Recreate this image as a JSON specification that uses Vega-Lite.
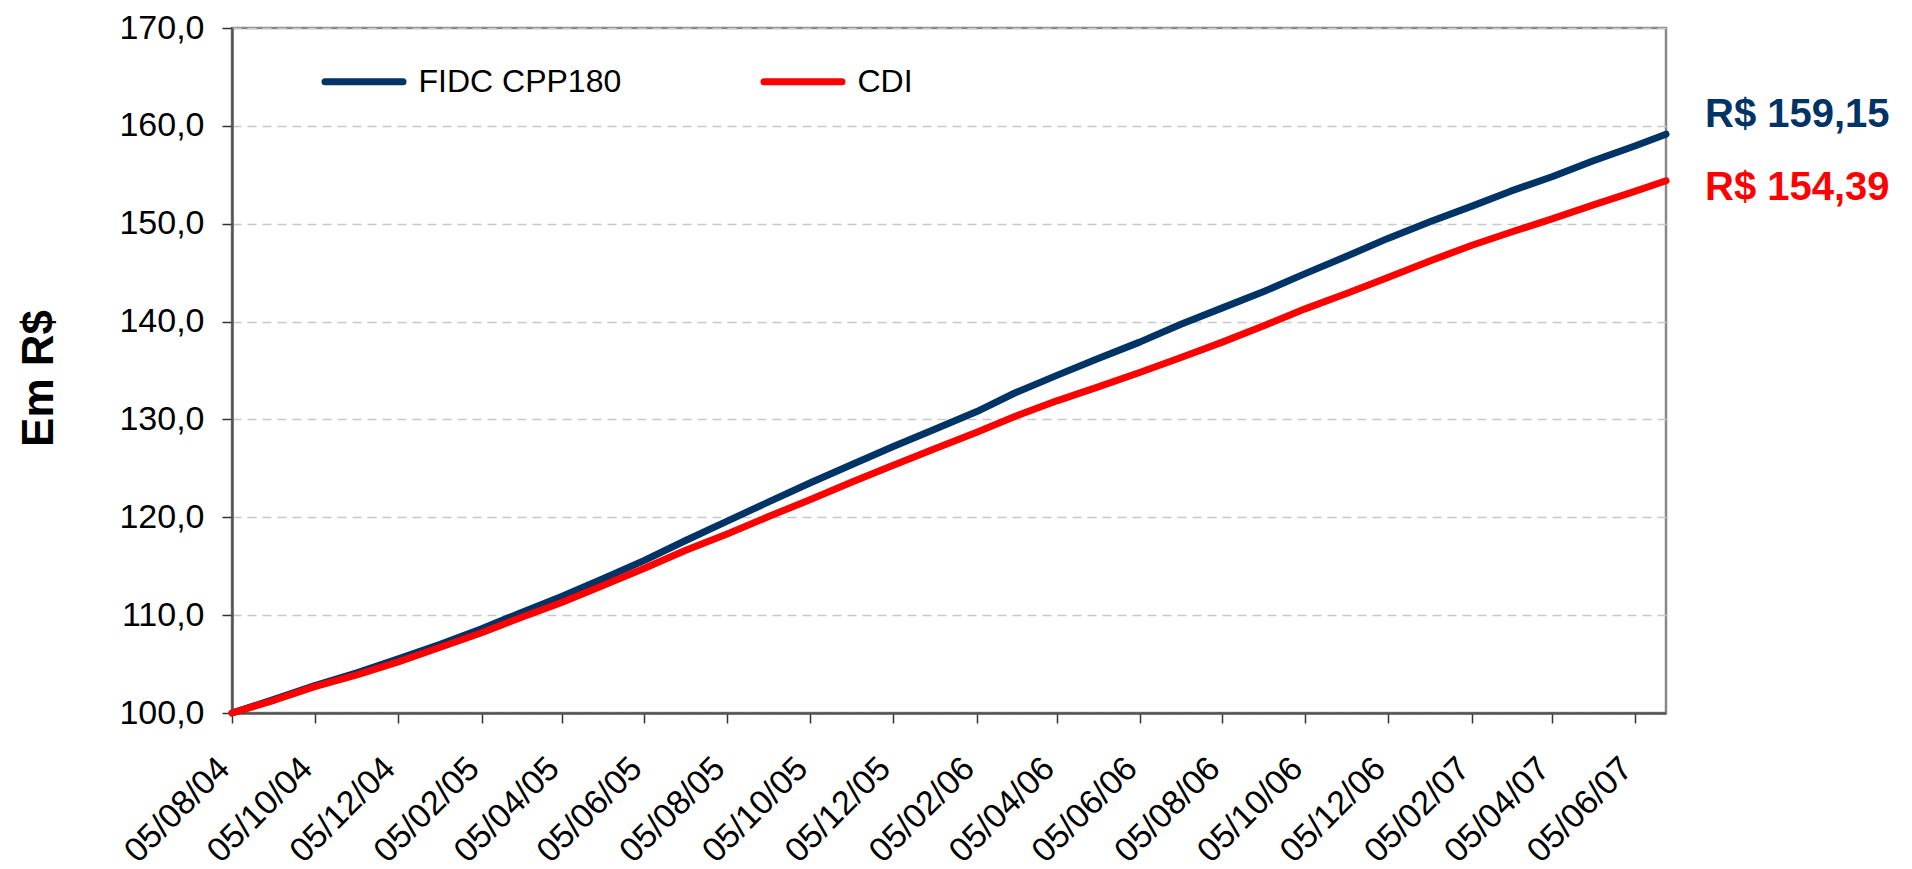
{
  "$schema": "https://vega.github.io/schema/vega-lite/v6.json",
  "width": 1434,
  "height": 685,
  "autosize": {"type": "none"},
  "padding": {"left": 232, "top": 28, "right": 246, "bottom": 156},
  "background": "white",
  "config": {
    "font": "Liberation Sans",
    "view": {"stroke": "#888888", "strokeWidth": 2.5},
    "axis": {
      "labelFont": "Liberation Sans",
      "labelColor": "black",
      "tickColor": "#333333",
      "tickSize": 10,
      "tickWidth": 1.5,
      "domainColor": "#555555",
      "domainWidth": 2.5
    }
  },
  "datasets": {
    "series": [
      {"date": "2004-08-05", "series": "FIDC CPP180", "value": 100.0},
      {"date": "2004-09-05", "series": "FIDC CPP180", "value": 101.4},
      {"date": "2004-10-05", "series": "FIDC CPP180", "value": 102.8},
      {"date": "2004-11-05", "series": "FIDC CPP180", "value": 104.1},
      {"date": "2004-12-05", "series": "FIDC CPP180", "value": 105.5},
      {"date": "2005-01-05", "series": "FIDC CPP180", "value": 107.0},
      {"date": "2005-02-05", "series": "FIDC CPP180", "value": 108.6},
      {"date": "2005-03-05", "series": "FIDC CPP180", "value": 110.2},
      {"date": "2005-04-05", "series": "FIDC CPP180", "value": 111.9},
      {"date": "2005-05-05", "series": "FIDC CPP180", "value": 113.7},
      {"date": "2005-06-05", "series": "FIDC CPP180", "value": 115.6},
      {"date": "2005-07-05", "series": "FIDC CPP180", "value": 117.6},
      {"date": "2005-08-05", "series": "FIDC CPP180", "value": 119.6},
      {"date": "2005-09-05", "series": "FIDC CPP180", "value": 121.6},
      {"date": "2005-10-05", "series": "FIDC CPP180", "value": 123.5},
      {"date": "2005-11-05", "series": "FIDC CPP180", "value": 125.4},
      {"date": "2005-12-05", "series": "FIDC CPP180", "value": 127.2},
      {"date": "2006-01-05", "series": "FIDC CPP180", "value": 129.0},
      {"date": "2006-02-05", "series": "FIDC CPP180", "value": 130.8},
      {"date": "2006-03-05", "series": "FIDC CPP180", "value": 132.7},
      {"date": "2006-04-05", "series": "FIDC CPP180", "value": 134.5},
      {"date": "2006-05-05", "series": "FIDC CPP180", "value": 136.2},
      {"date": "2006-06-05", "series": "FIDC CPP180", "value": 137.9},
      {"date": "2006-07-05", "series": "FIDC CPP180", "value": 139.7},
      {"date": "2006-08-05", "series": "FIDC CPP180", "value": 141.4},
      {"date": "2006-09-05", "series": "FIDC CPP180", "value": 143.1},
      {"date": "2006-10-05", "series": "FIDC CPP180", "value": 144.9},
      {"date": "2006-11-05", "series": "FIDC CPP180", "value": 146.7},
      {"date": "2006-12-05", "series": "FIDC CPP180", "value": 148.5},
      {"date": "2007-01-05", "series": "FIDC CPP180", "value": 150.2},
      {"date": "2007-02-05", "series": "FIDC CPP180", "value": 151.8},
      {"date": "2007-03-05", "series": "FIDC CPP180", "value": 153.3},
      {"date": "2007-04-05", "series": "FIDC CPP180", "value": 154.8},
      {"date": "2007-05-05", "series": "FIDC CPP180", "value": 156.4},
      {"date": "2007-06-05", "series": "FIDC CPP180", "value": 157.95},
      {"date": "2007-06-28", "series": "FIDC CPP180", "value": 159.15},
      {"date": "2004-08-05", "series": "CDI", "value": 100.0},
      {"date": "2004-09-05", "series": "CDI", "value": 101.3},
      {"date": "2004-10-05", "series": "CDI", "value": 102.7},
      {"date": "2004-11-05", "series": "CDI", "value": 103.9},
      {"date": "2004-12-05", "series": "CDI", "value": 105.2},
      {"date": "2005-01-05", "series": "CDI", "value": 106.7},
      {"date": "2005-02-05", "series": "CDI", "value": 108.2},
      {"date": "2005-03-05", "series": "CDI", "value": 109.7},
      {"date": "2005-04-05", "series": "CDI", "value": 111.3},
      {"date": "2005-05-05", "series": "CDI", "value": 113.0},
      {"date": "2005-06-05", "series": "CDI", "value": 114.8},
      {"date": "2005-07-05", "series": "CDI", "value": 116.6},
      {"date": "2005-08-05", "series": "CDI", "value": 118.3},
      {"date": "2005-09-05", "series": "CDI", "value": 120.1},
      {"date": "2005-10-05", "series": "CDI", "value": 121.8},
      {"date": "2005-11-05", "series": "CDI", "value": 123.6},
      {"date": "2005-12-05", "series": "CDI", "value": 125.3},
      {"date": "2006-01-05", "series": "CDI", "value": 127.0},
      {"date": "2006-02-05", "series": "CDI", "value": 128.7},
      {"date": "2006-03-05", "series": "CDI", "value": 130.3},
      {"date": "2006-04-05", "series": "CDI", "value": 131.9},
      {"date": "2006-05-05", "series": "CDI", "value": 133.3},
      {"date": "2006-06-05", "series": "CDI", "value": 134.8},
      {"date": "2006-07-05", "series": "CDI", "value": 136.3},
      {"date": "2006-08-05", "series": "CDI", "value": 137.9},
      {"date": "2006-09-05", "series": "CDI", "value": 139.6},
      {"date": "2006-10-05", "series": "CDI", "value": 141.3},
      {"date": "2006-11-05", "series": "CDI", "value": 142.9},
      {"date": "2006-12-05", "series": "CDI", "value": 144.5},
      {"date": "2007-01-05", "series": "CDI", "value": 146.2},
      {"date": "2007-02-05", "series": "CDI", "value": 147.8},
      {"date": "2007-03-05", "series": "CDI", "value": 149.1},
      {"date": "2007-04-05", "series": "CDI", "value": 150.5},
      {"date": "2007-05-05", "series": "CDI", "value": 151.9},
      {"date": "2007-06-05", "series": "CDI", "value": 153.3},
      {"date": "2007-06-28", "series": "CDI", "value": 154.39}
    ],
    "ends": [
      {"date": "2007-06-28", "series": "FIDC CPP180", "value": 159.15, "label": "R$ 159,15"},
      {"date": "2007-06-28", "series": "CDI", "value": 154.39, "label": "R$ 154,39"}
    ]
  },
  "data": {"name": "series"},
  "encoding": {
    "x": {
      "field": "date",
      "type": "temporal",
      "scale": {
        "type": "utc",
        "domain": [
          {"year": 2004, "month": 8, "date": 5, "utc": true},
          {"year": 2007, "month": 6, "date": 28, "utc": true}
        ]
      },
      "axis": {
        "title": null,
        "grid": false,
        "format": "%d/%m/%y",
        "values": [
          {"year": 2004, "month": 8, "date": 5, "utc": true},
          {"year": 2004, "month": 10, "date": 5, "utc": true},
          {"year": 2004, "month": 12, "date": 5, "utc": true},
          {"year": 2005, "month": 2, "date": 5, "utc": true},
          {"year": 2005, "month": 4, "date": 5, "utc": true},
          {"year": 2005, "month": 6, "date": 5, "utc": true},
          {"year": 2005, "month": 8, "date": 5, "utc": true},
          {"year": 2005, "month": 10, "date": 5, "utc": true},
          {"year": 2005, "month": 12, "date": 5, "utc": true},
          {"year": 2006, "month": 2, "date": 5, "utc": true},
          {"year": 2006, "month": 4, "date": 5, "utc": true},
          {"year": 2006, "month": 6, "date": 5, "utc": true},
          {"year": 2006, "month": 8, "date": 5, "utc": true},
          {"year": 2006, "month": 10, "date": 5, "utc": true},
          {"year": 2006, "month": 12, "date": 5, "utc": true},
          {"year": 2007, "month": 2, "date": 5, "utc": true},
          {"year": 2007, "month": 4, "date": 5, "utc": true},
          {"year": 2007, "month": 6, "date": 5, "utc": true}
        ],
        "labelAngle": -45,
        "labelAlign": "right",
        "labelBaseline": "middle",
        "labelFontSize": 34,
        "labelPadding": 40,
        "labelOffset": -8,
        "labelOverlap": false,
        "labelBound": false,
        "labelFlush": false
      }
    },
    "y": {
      "field": "value",
      "type": "quantitative",
      "scale": {"domain": [100, 170], "nice": false, "zero": false},
      "axis": {
        "values": [100, 110, 120, 130, 140, 150, 160, 170],
        "labelExpr": "replace(format(datum.value, '.1f'), '.', ',')",
        "labelFontSize": 34,
        "labelPadding": 18,
        "grid": true,
        "gridDash": [9, 6],
        "gridColor": "#c8c8c8",
        "gridWidth": 1.5,
        "title": "Em R$",
        "titleFont": "Liberation Sans",
        "titleFontSize": 44,
        "titleFontWeight": "bold",
        "titleColor": "black",
        "titleAngle": -90,
        "titleX": -180,
        "titleY": 350,
        "titleAlign": "center",
        "titleBaseline": "alphabetic"
      }
    }
  },
  "layer": [
    {
      "transform": [{"filter": "datum.series === 'FIDC CPP180'"}],
      "mark": {"type": "line", "strokeWidth": 7, "strokeCap": "round", "strokeJoin": "round"},
      "encoding": {
        "color": {
          "field": "series",
          "type": "nominal",
          "scale": {"domain": ["FIDC CPP180", "CDI"], "range": ["#003366", "#FF0000"]},
          "legend": {
            "orient": "none",
            "legendX": 89.5,
            "legendY": 11,
            "direction": "horizontal",
            "title": null,
            "padding": 0,
            "symbolType": "stroke",
            "symbolSize": 6084,
            "symbolStrokeWidth": 7,
            "labelFont": "Liberation Sans",
            "labelFontSize": 32,
            "labelColor": "black",
            "labelOffset": 12,
            "labelLimit": 500,
            "columnPadding": 128,
            "encode": {"symbols": {"update": {"strokeCap": {"value": "round"}}}}
          }
        }
      }
    },
    {
      "transform": [{"filter": "datum.series === 'CDI'"}],
      "mark": {"type": "line", "strokeWidth": 7, "strokeCap": "round", "strokeJoin": "round"},
      "encoding": {
        "color": {"field": "series", "type": "nominal"}
      }
    },
    {
      "data": {"name": "ends"},
      "transform": [{"filter": "datum.series === 'FIDC CPP180'"}],
      "mark": {"type": "text", "align": "left", "baseline": "middle", "dx": 39, "dy": -19, "font": "Liberation Sans", "fontSize": 40, "fontWeight": "bold", "color": "#003366"},
      "encoding": {"text": {"field": "label"}}
    },
    {
      "data": {"name": "ends"},
      "transform": [{"filter": "datum.series === 'CDI'"}],
      "mark": {"type": "text", "align": "left", "baseline": "middle", "dx": 39, "dy": 7, "font": "Liberation Sans", "fontSize": 40, "fontWeight": "bold", "color": "#FF0000"},
      "encoding": {"text": {"field": "label"}}
    }
  ]
}
